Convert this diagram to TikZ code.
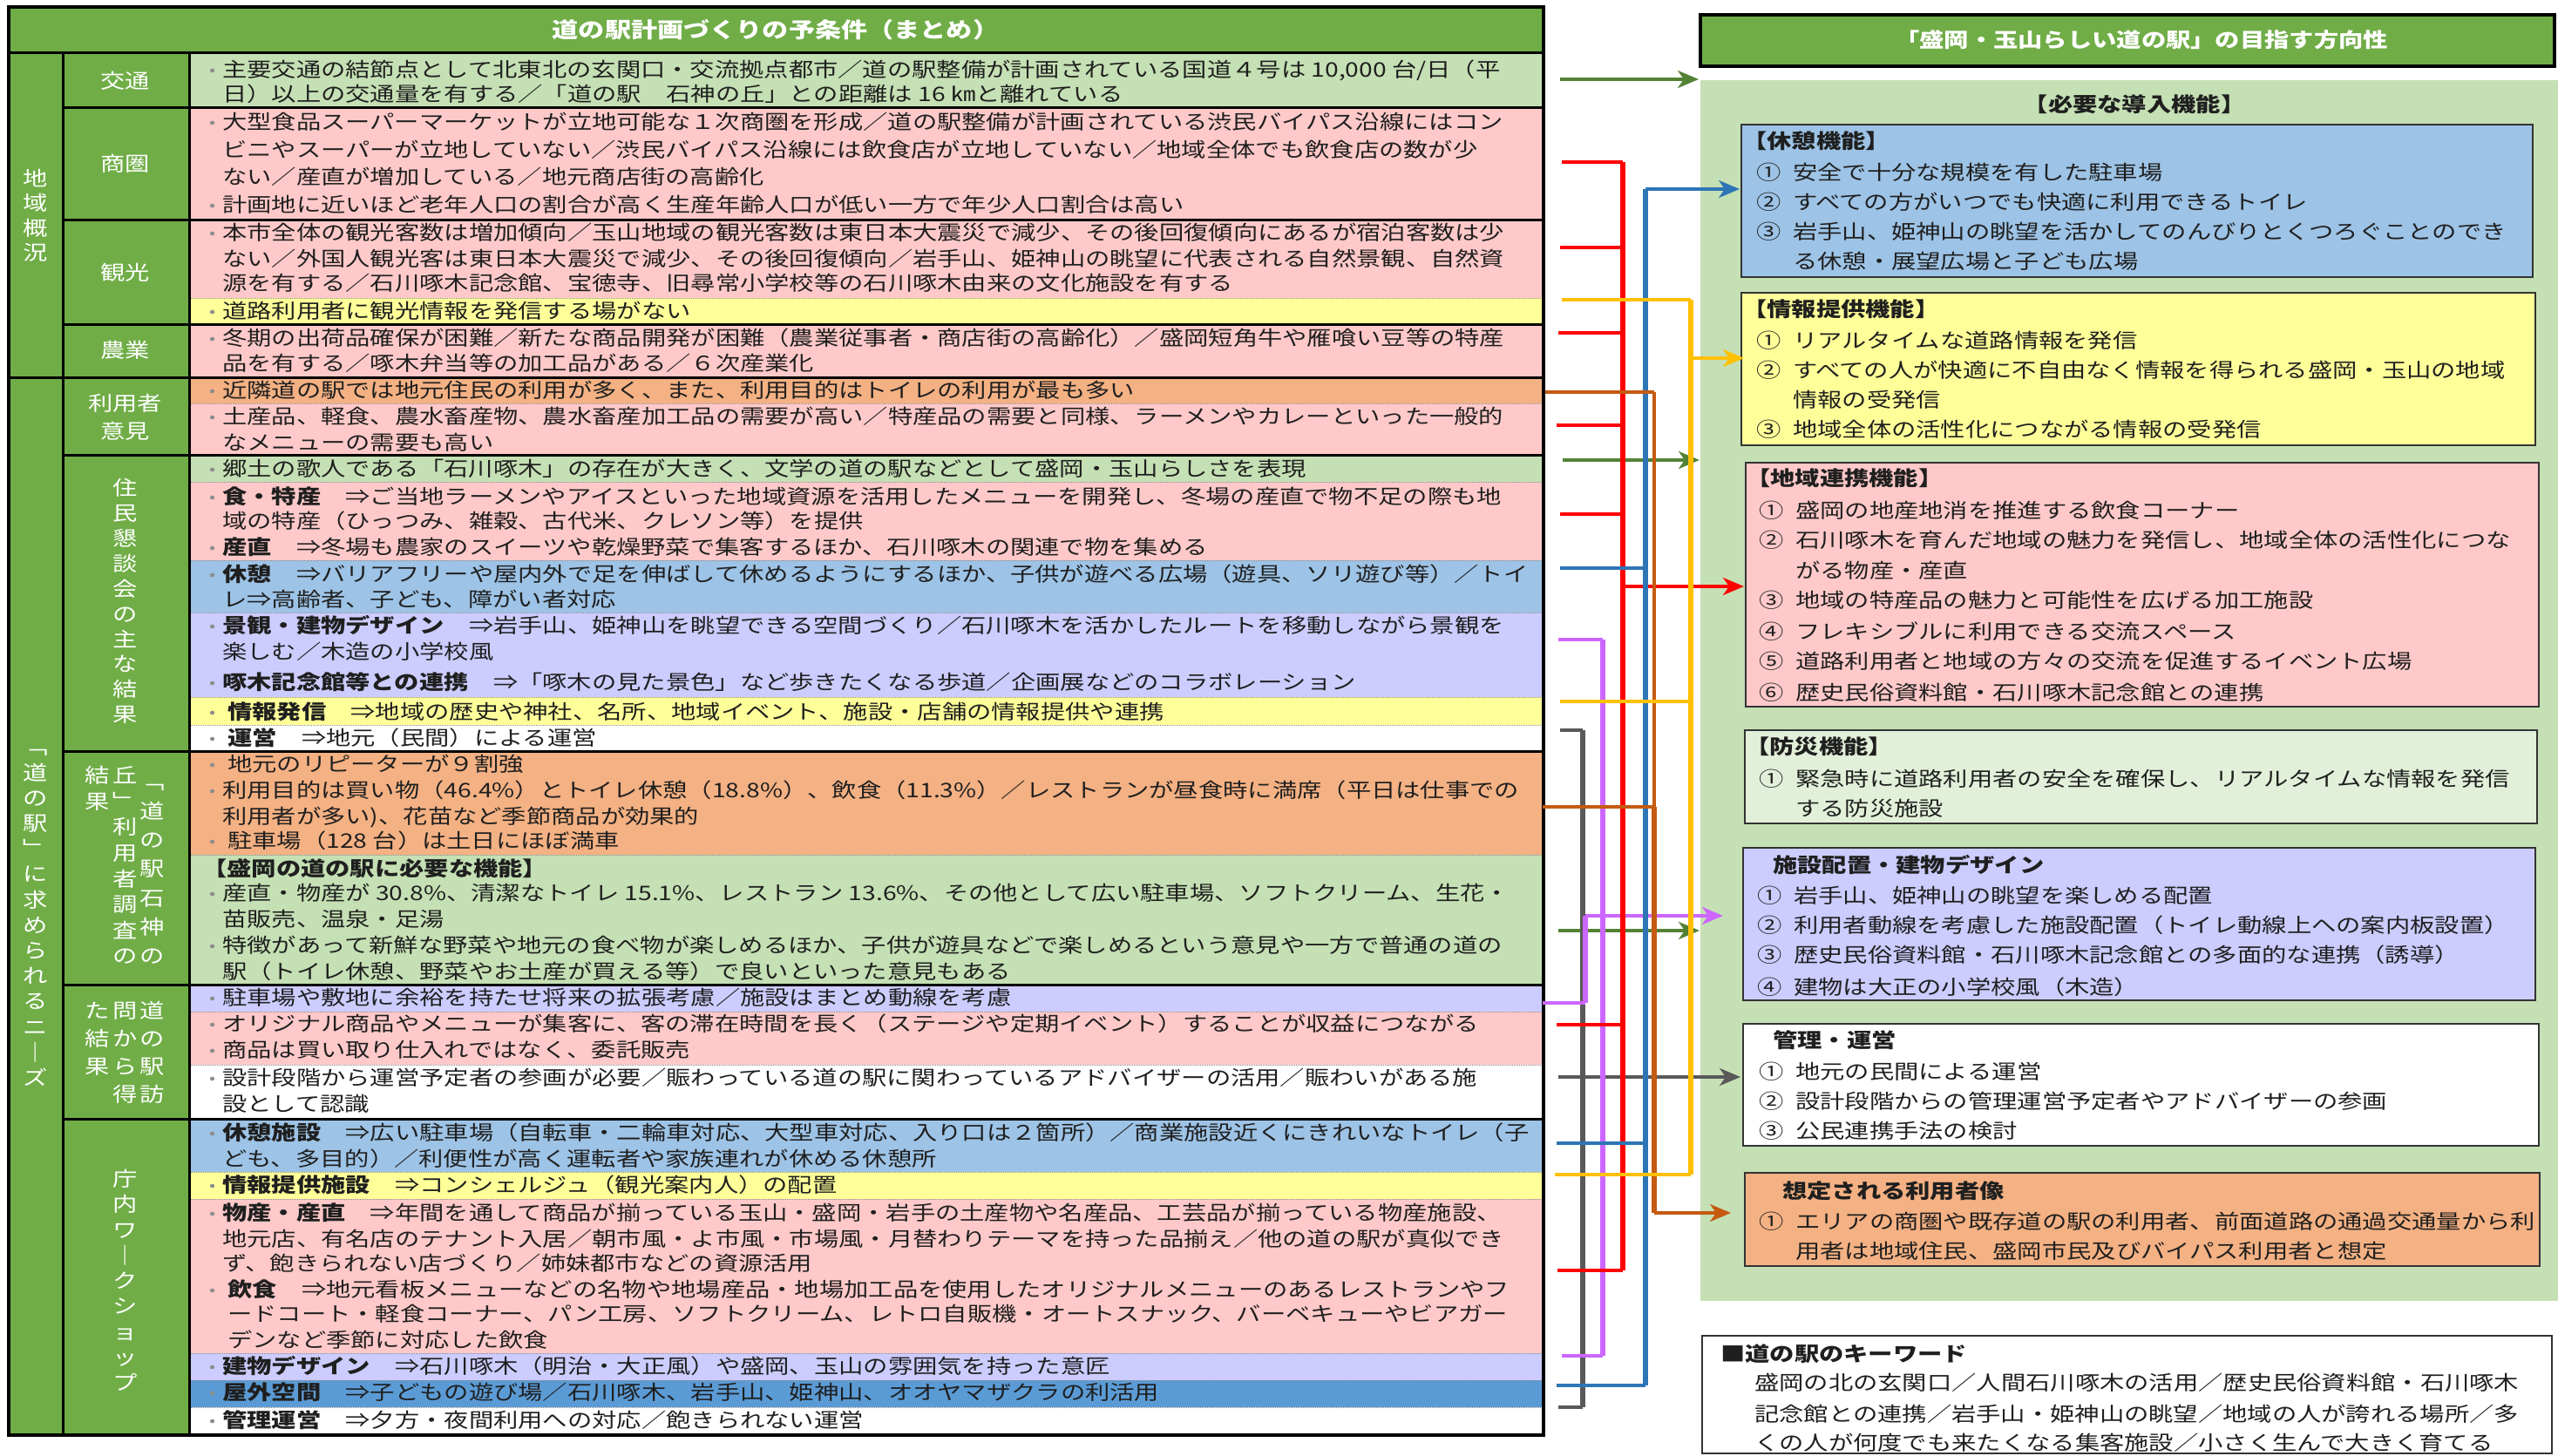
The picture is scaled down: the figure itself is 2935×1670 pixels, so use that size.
\documentclass[tikz,border=0pt]{standalone}
\usepackage{fontspec}
\setmainfont{Noto Sans CJK JP}[FakeStretch=1.23]
\usetikzlibrary{arrows.meta}
\definecolor{hdr}{HTML}{70AD47}
\definecolor{lgreen}{HTML}{C5E0B4}
\definecolor{pinkc}{HTML}{FFC9C9}
\definecolor{yel}{HTML}{FFFF99}
\definecolor{ora}{HTML}{F4B183}
\definecolor{lblue}{HTML}{9DC3E6}
\definecolor{lav}{HTML}{CCCCFF}
\definecolor{mblue}{HTML}{5B9BD5}
\definecolor{vlgreen}{HTML}{E2F0D9}
\definecolor{bulc}{HTML}{8C8C8C}
\definecolor{txtc}{HTML}{1F1F1F}
\definecolor{cgreen}{HTML}{548235}
\definecolor{cred}{HTML}{FF0000}
\definecolor{cblue}{HTML}{2E75B6}
\definecolor{cyel}{HTML}{FFC000}
\definecolor{cora}{HTML}{C55A11}
\definecolor{cpur}{HTML}{CC66FF}
\definecolor{cgray}{HTML}{595959}
\newcommand\tfnt{\fontsize{23}{29}\selectfont}
\newcommand\bul{\makebox[23pt][c]{\raisebox{2pt}{\textcolor{bulc}{\fontsize{17}{17}\selectfont •}}}}
\newcommand\indt{\hspace*{23pt}}
\newcommand\hsp{\hspace*{6pt}}
\newcommand\Bd[1]{{\bfseries #1}}
\newcommand\RI[1]{\makebox[42pt][l]{#1}}
\newcommand\RJ{\hspace*{42pt}}
\newcommand\vs{\rule[-2.8pt]{0pt}{23pt}}
\newcounter{ln}
\newcommand\TL[3][232]{\stepcounter{ln}\node[tl] (t\theln) at (#1,#2) {#3};}
\tikzset{
  tl/.style={anchor=west, inner sep=0pt, text height=20.2pt, text depth=2.8pt, font=\tfnt, text=txtc},
  vlab/.style={inner sep=0pt, align=center, text=white, font=\fontsize{23}{29}\selectfont},
  boxd/.style={line width=1.5pt, draw=black!80},
  dotl/.style={line width=1pt, densely dotted, draw=black!45},
  soll/.style={line width=3pt, draw=black},
  arr/.style={-{Stealth[length=24pt,width=20pt,inset=7pt]}},
  thn/.style={line width=3.5pt},
  thk/.style={line width=6pt}
}
\begin{document}
\begin{tikzpicture}[x=1pt,y=-1pt]
\useasboundingbox (0,0) rectangle (2935,1670);
\fill[white] (0,0) rectangle (2935,1670);
% ===== left table fills =====
\fill[hdr] (10,8) rectangle (1771,61);
\fill[hdr] (10,61) rectangle (217,1647);
\fill[lgreen] (217,61) rectangle (1771,123);
\fill[pinkc] (217,123) rectangle (1771,342);
\fill[yel] (217,342) rectangle (1771,372);
\fill[pinkc] (217,372) rectangle (1771,433);
\fill[ora] (217,433) rectangle (1771,463);
\fill[pinkc] (217,463) rectangle (1771,522);
\fill[lgreen] (217,522) rectangle (1771,553);
\fill[pinkc] (217,553) rectangle (1771,643);
\fill[lblue] (217,643) rectangle (1771,703);
\fill[lav] (217,703) rectangle (1771,800);
\fill[yel] (217,800) rectangle (1771,832);
\fill[white] (217,832) rectangle (1771,862);
\fill[ora] (217,862) rectangle (1771,981);
\fill[lgreen] (217,981) rectangle (1771,1130);
\fill[lav] (217,1130) rectangle (1771,1161);
\fill[pinkc] (217,1161) rectangle (1771,1222);
\fill[white] (217,1222) rectangle (1771,1284);
\fill[lblue] (217,1284) rectangle (1771,1345);
\fill[yel] (217,1345) rectangle (1771,1376);
\fill[pinkc] (217,1376) rectangle (1771,1553);
\fill[lav] (217,1553) rectangle (1771,1584);
\fill[mblue] (217,1584) rectangle (1771,1615);
\fill[white] (217,1615) rectangle (1771,1647);
% dotted separators
\foreach \yy in {342,463,553,643,703,800,832,981,1161,1222,1345,1376,1553,1584,1615}
  \draw[dotl] (217,\yy) -- (1771,\yy);
% solid lines
\foreach \yy in {123,252,372,522,862,1130,1284}
  \draw[soll] (72,\yy) -- (1771,\yy);
\draw[soll] (10,433) -- (1771,433);
\draw[soll] (10,61) -- (1771,61);
\draw[soll] (72,61) -- (72,1647);
\draw[soll] (217,61) -- (217,1647);
\draw[line width=4pt] (10,8) rectangle (1771,1647);
% title
\node[tl, anchor=center, text=white, font=\fontsize{24.5}{29}\selectfont] (ttl) at (890,35) {\Bd{道の駅計画づくりの予条件（まとめ）}};
% ===== category labels =====
\node[vlab, font=\fontsize{23}{28.5}\selectfont] (c1) at (41,247.5) {\vs 地\\域\\概\\況\vs};
\node[vlab, font=\fontsize{23}{29.2}\selectfont] (c2) at (41,1047) {\vs ﹁\\道\\の\\駅\\﹂\\に\\求\\め\\ら\\れ\\る\\ニ\\｜\\ズ\vs};
\node[vlab] (c3) at (143.5,93) {\vs 交通\vs};
\node[vlab] (c4) at (143.5,188) {\vs 商圏\vs};
\node[vlab] (c5) at (143.5,313) {\vs 観光\vs};
\node[vlab] (c6) at (143.5,402) {\vs 農業\vs};
\node[vlab, font=\fontsize{23}{32}\selectfont] (c7) at (143.5,479) {\vs 利用者\\意見\vs};
\node[vlab, font=\fontsize{23}{28.9}\selectfont] (c8) at (143.5,690) {\vs 住\\民\\懇\\談\\会\\の\\主\\な\\結\\果\vs};
\node[vlab, font=\fontsize{23}{33.3}\selectfont] (c9) at (175,997) {\vs ﹁\\道\\の\\駅\\石\\神\\の\vs};
\node[vlab, font=\fontsize{23}{29.6}\selectfont] (c10) at (143.5,993.5) {\vs 丘\\﹂\\利\\用\\者\\調\\査\\の\vs};
\node[vlab, font=\fontsize{23}{30}\selectfont] (c11) at (112,905) {\vs 結\\果\vs};
\node[vlab, font=\fontsize{23}{32}\selectfont] (c12) at (175,1208) {\vs 道\\の\\駅\\訪\vs};
\node[vlab, font=\fontsize{23}{32}\selectfont] (c13) at (143.5,1208) {\vs 問\\か\\ら\\得\vs};
\node[vlab, font=\fontsize{23}{32}\selectfont] (c14) at (112,1192) {\vs た\\結\\果\vs};
\node[vlab, font=\fontsize{23}{29.25}\selectfont] (c15) at (143.5,1470) {\vs 庁\\内\\ワ\\｜\\ク\\シ\\ョ\\ッ\\プ\vs};
% ===== table text =====
\TL{80}{\bul 主要交通の結節点として北東北の玄関口・交流拠点都市／道の駅整備が計画されている国道４号は 10,000 台/日（平}
\TL{108}{\indt 日）以上の交通量を有する／「道の駅　石神の丘」との距離は 16 ㎞と離れている}
\TL{140}{\bul 大型食品スーパーマーケットが立地可能な１次商圏を形成／道の駅整備が計画されている渋民バイパス沿線にはコン}
\TL{172}{\indt ビニやスーパーが立地していない／渋民バイパス沿線には飲食店が立地していない／地域全体でも飲食店の数が少}
\TL{203}{\indt ない／産直が増加している／地元商店街の高齢化}
\TL{235}{\bul 計画地に近いほど老年人口の割合が高く生産年齢人口が低い一方で年少人口割合は高い}
\TL{267}{\bul 本市全体の観光客数は増加傾向／玉山地域の観光客数は東日本大震災で減少、その後回復傾向にあるが宿泊客数は少}
\TL{297}{\indt ない／外国人観光客は東日本大震災で減少、その後回復傾向／岩手山、姫神山の眺望に代表される自然景観、自然資}
\TL{325}{\indt 源を有する／石川啄木記念館、宝徳寺、旧尋常小学校等の石川啄木由来の文化施設を有する}
\TL{357}{\bul 道路利用者に観光情報を発信する場がない}
\TL{388}{\bul 冬期の出荷品確保が困難／新たな商品開発が困難（農業従事者・商店街の高齢化）／盛岡短角牛や雁喰い豆等の特産}
\TL{417}{\indt 品を有する／啄木弁当等の加工品がある／６次産業化}
\TL{448}{\bul 近隣道の駅では地元住民の利用が多く、また、利用目的はトイレの利用が最も多い}
\TL{478}{\bul 土産品、軽食、農水畜産物、農水畜産加工品の需要が高い／特産品の需要と同様、ラーメンやカレーといった一般的}
\TL{508}{\indt なメニューの需要も高い}
\TL{538}{\bul 郷土の歌人である「石川啄木」の存在が大きく、文学の道の駅などとして盛岡・玉山らしさを表現}
\TL{570}{\bul \Bd{食・特産}　⇒ご当地ラーメンやアイスといった地域資源を活用したメニューを開発し、冬場の産直で物不足の際も地}
\TL{598}{\indt 域の特産（ひっつみ、雑穀、古代米、クレソン等）を提供}
\TL{628}{\bul \Bd{産直}　⇒冬場も農家のスイーツや乾燥野菜で集客するほか、石川啄木の関連で物を集める}
\TL{659}{\bul \Bd{休憩}　⇒バリアフリーや屋内外で足を伸ばして休めるようにするほか、子供が遊べる広場（遊具、ソリ遊び等）／トイ}
\TL{688}{\indt レ⇒高齢者、子ども、障がい者対応}
\TL{718}{\bul \Bd{景観・建物デザイン}　⇒岩手山、姫神山を眺望できる空間づくり／石川啄木を活かしたルートを移動しながら景観を}
\TL{748}{\indt 楽しむ／木造の小学校風}
\TL{783}{\bul \Bd{啄木記念館等との連携}　⇒「啄木の見た景色」など歩きたくなる歩道／企画展などのコラボレーション}
\TL{817}{\bul\hsp\Bd{情報発信}　⇒地域の歴史や神社、名所、地域イベント、施設・店舗の情報提供や連携}
\TL{847}{\bul\hsp\Bd{運営}　⇒地元（民間）による運営}
\TL{877}{\bul\hsp 地元のリピーターが９割強}
\TL{907}{\bul 利用目的は買い物（46.4\%）とトイレ休憩（18.8\%）、飲食（11.3\%）／レストランが昼食時に満席（平日は仕事での}
\TL{937}{\indt 利用者が多い)、花苗など季節商品が効果的}
\TL{965}{\bul\hsp 駐車場（128 台）は土日にほぼ満車}
\TL{997}{\Bd{【盛岡の道の駅に必要な機能】}}
\TL{1025}{\bul 産直・物産が 30.8\%、清潔なトイレ 15.1\%、レストラン 13.6\%、その他として広い駐車場、ソフトクリーム、生花・}
\TL{1055}{\indt 苗販売、温泉・足湯}
\TL{1085}{\bul 特徴があって新鮮な野菜や地元の食べ物が楽しめるほか、子供が遊具などで楽しめるという意見や一方で普通の道の}
\TL{1115}{\indt 駅（トイレ休憩、野菜やお土産が買える等）で良いといった意見もある}
\TL{1145}{\bul 駐車場や敷地に余裕を持たせ将来の拡張考慮／施設はまとめ動線を考慮}
\TL{1175}{\bul オリジナル商品やメニューが集客に、客の滞在時間を長く（ステージや定期イベント）することが収益につながる}
\TL{1205}{\bul 商品は買い取り仕入れではなく、委託販売}
\TL{1237}{\bul 設計段階から運営予定者の参画が必要／賑わっている道の駅に関わっているアドバイザーの活用／賑わいがある施}
\TL{1267}{\indt 設として認識}
\TL{1300}{\bul \Bd{休憩施設}　⇒広い駐車場（自転車・二輪車対応、大型車対応、入り口は２箇所）／商業施設近くにきれいなトイレ（子}
\TL{1330}{\indt ども、多目的）／利便性が高く運転者や家族連れが休める休憩所}
\TL{1360}{\bul \Bd{情報提供施設}　⇒コンシェルジュ（観光案内人）の配置}
\TL{1392}{\bul \Bd{物産・産直}　⇒年間を通して商品が揃っている玉山・盛岡・岩手の土産物や名産品、工芸品が揃っている物産施設、}
\TL{1422}{\indt 地元店、有名店のテナント入居／朝市風・よ市風・市場風・月替わりテーマを持った品揃え／他の道の駅が真似でき}
\TL{1450}{\indt ず、飽きられない店づくり／姉妹都市などの資源活用}
\TL{1480}{\bul\hsp\Bd{飲食}　⇒地元看板メニューなどの名物や地場産品・地場加工品を使用したオリジナルメニューのあるレストランやフ}
\TL{1508}{\indt\hsp ードコート・軽食コーナー、パン工房、ソフトクリーム、レトロ自販機・オートスナック、バーベキューやビアガー}
\TL{1538}{\indt\hsp デンなど季節に対応した飲食}
\TL{1568}{\bul \Bd{建物デザイン}　⇒石川啄木（明治・大正風）や盛岡、玉山の雰囲気を持った意匠}
\TL{1598}{\bul \Bd{屋外空間}　⇒子どもの遊び場／石川啄木、岩手山、姫神山、オオヤマザクラの利活用}
\TL{1630}{\bul \Bd{管理運営}　⇒夕方・夜間利用への対応／飽きられない運営}
% ===== right panel =====
\draw[line width=4pt, fill=hdr] (1951,17) rectangle (2931,76);
\node[tl, anchor=center, text=white] (rtitle) at (2457,46) {\Bd{「盛岡・玉山らしい道の駅」の目指す方向性}};
\fill[lgreen] (1951,92) rectangle (2935,1493);
\node[tl, anchor=center] (need) at (2449,120) {\Bd{【必要な導入機能】}};
\draw[boxd, fill=lblue] (1998,143) rectangle (2906,318);
\draw[boxd, fill=yel] (1998,336) rectangle (2909,511);
\draw[boxd, fill=pinkc] (2003,531) rectangle (2913,811);
\draw[boxd, fill=vlgreen] (2002,838) rectangle (2911,945);
\draw[boxd, fill=lav] (2000,973) rectangle (2909,1148);
\draw[boxd, fill=white] (2000,1175) rectangle (2913,1315);
\draw[boxd, fill=ora] (2002,1346) rectangle (2914,1453);
\draw[boxd, fill=white] (1953,1533) rectangle (2928,1668);
\TL[1999]{162}{\Bd{【休憩機能】}}
\TL[2015]{198}{\RI{①}安全で十分な規模を有した駐車場}
\TL[2015]{232}{\RI{②}すべての方がいつでも快適に利用できるトイレ}
\TL[2015]{266}{\RI{③}岩手山、姫神山の眺望を活かしてのんびりとくつろぐことのでき}
\TL[2015]{300}{\RJ る休憩・展望広場と子ども広場}
\TL[1999]{355}{\Bd{【情報提供機能】}}
\TL[2015]{391}{\RI{①}リアルタイムな道路情報を発信}
\TL[2015]{425}{\RI{②}すべての人が快適に不自由なく情報を得られる盛岡・玉山の地域}
\TL[2015]{459}{\RJ 情報の受発信}
\TL[2015]{493}{\RI{③}地域全体の活性化につながる情報の受発信}
\TL[2003]{549}{\Bd{【地域連携機能】}}
\TL[2018]{586}{\RI{①}盛岡の地産地消を推進する飲食コーナー}
\TL[2018]{620}{\RI{②}石川啄木を育んだ地域の魅力を発信し、地域全体の活性化につな}
\TL[2018]{655}{\RJ がる物産・産直}
\TL[2018]{689}{\RI{③}地域の特産品の魅力と可能性を広げる加工施設}
\TL[2018]{725}{\RI{④}フレキシブルに利用できる交流スペース}
\TL[2018]{759}{\RI{⑤}道路利用者と地域の方々の交流を促進するイベント広場}
\TL[2018]{795}{\RI{⑥}歴史民俗資料館・石川啄木記念館との連携}
\TL[2002]{857}{\Bd{【防災機能】}}
\TL[2018]{894}{\RI{①}緊急時に道路利用者の安全を確保し、リアルタイムな情報を発信}
\TL[2018]{928}{\RJ する防災施設}
\TL[2034]{993}{\Bd{施設配置・建物デザイン}}
\TL[2016]{1028}{\RI{①}岩手山、姫神山の眺望を楽しめる配置}
\TL[2016]{1062}{\RI{②}利用者動線を考慮した施設配置（トイレ動線上への案内板設置）}
\TL[2016]{1096}{\RI{③}歴史民俗資料館・石川啄木記念館との多面的な連携（誘導）}
\TL[2016]{1133}{\RI{④}建物は大正の小学校風（木造）}
\TL[2034]{1194}{\Bd{管理・運営}}
\TL[2018]{1230}{\RI{①}地元の民間による運営}
\TL[2018]{1264}{\RI{②}設計段階からの管理運営予定者やアドバイザーの参画}
\TL[2018]{1298}{\RI{③}公民連携手法の検討}
\TL[2045]{1367}{\Bd{想定される利用者像}}
\TL[2018]{1402}{\RI{①}エリアの商圏や既存道の駅の利用者、前面道路の通過交通量から利}
\TL[2018]{1436}{\RJ 用者は地域住民、盛岡市民及びバイパス利用者と想定}
\TL[1974]{1554}{\Bd{■道の駅のキーワード}}
\TL[2013]{1587}{盛岡の北の玄関口／人間石川啄木の活用／歴史民俗資料館・石川啄木}
\TL[2013]{1623}{記念館との連携／岩手山・姫神山の眺望／地域の人が誇れる場所／多}
\TL[2013]{1656}{くの人が何度でも来たくなる集客施設／小さく生んで大きく育てる}
% ===== connectors =====
% green
\coordinate (g1a) at (1790,91);  \coordinate (g1b) at (1949,91);
\coordinate (g2a) at (1793,528); \coordinate (g2b) at (1950,528);
\coordinate (g3a) at (1788,1068);\coordinate (g3b) at (1950,1068);
\draw[cgreen, thn, arr] (g1a) -- (g1b);
\draw[cgreen, thn, arr] (g2a) -- (g2b);
\draw[cgreen, thn, arr] (g3a) -- (g3b);
% gray
\coordinate (kv1) at (1816,838); \coordinate (kv2) at (1816,1615);
\coordinate (k1) at (1790,838); \coordinate (k2) at (1788,1615);
\coordinate (k3) at (1788,1236); \coordinate (k3b) at (1997,1236);
\draw[cgray, thk] (kv1) -- (kv2);
\draw[cgray, thn] (k1) -- (kv1);
\draw[cgray, thn] (k2) -- (kv2);
\draw[cgray, thn, arr] (k3) -- (k3b);
% purple
\coordinate (pv1) at (1839,734); \coordinate (pv2) at (1839,1556);
\coordinate (p1) at (1788,734); \coordinate (p2) at (1792,1556);
\coordinate (p3) at (1770,1151); \coordinate (p3j) at (1819,1151);
\coordinate (p3k) at (1819,1051); \coordinate (p3b) at (1977,1051);
\draw[cpur, thk] (pv1) -- (pv2);
\draw[cpur, thn] (p1) -- (pv1);
\draw[cpur, thn] (p2) -- (pv2);
\draw[cpur, thn] (p3) -- (p3j);
\draw[cpur, thk] (p3j) -- (p3k);
\draw[cpur, thn, arr] (p3k) -- (p3b);
% red
\coordinate (rv1) at (1862,186); \coordinate (rv2) at (1862,1458);
\coordinate (r1) at (1792,186); \coordinate (r2) at (1790,284);
\coordinate (r3) at (1788,382); \coordinate (r4) at (1786,488);
\coordinate (r5) at (1790,590); \coordinate (r6) at (1786,1176);
\coordinate (r7) at (1787,1458);
\coordinate (ra) at (1862,673); \coordinate (rb) at (2001,673);
\foreach \c in {r1,r2,r3,r4,r5,r6,r7} \draw[cred, thn] (\c) -- (\c -| rv1);
\draw[cred, thk] (rv1) -- (rv2);
\draw[cred, thn, arr] (ra) -- (rb);
% blue
\coordinate (bv1) at (1888,217); \coordinate (bv2) at (1888,1590);
\coordinate (bb) at (1996,217);
\coordinate (b1) at (1790,652); \coordinate (b2) at (1786,1312); \coordinate (b3) at (1786,1590);
\foreach \c in {b1,b2,b3} \draw[cblue, thn] (\c) -- (\c -| bv1);
\draw[cblue, thk] (bv1) -- (bv2);
\draw[cblue, thn, arr] (bv1) -- (bb);
% orange
\coordinate (ov1) at (1898,450); \coordinate (ov2) at (1898,1392);
\coordinate (ovm) at (1898,926);
\coordinate (o1) at (1773,450); \coordinate (o2) at (1770,926);
\coordinate (ob) at (1986,1392);
\draw[cora, thn] (o1) -- (ov1);
\draw[cora, thn] (o2) -- (ovm);
\draw[cora, line width=4.5pt] (ov1) -- (ovm);
\draw[cora, thk] (ovm) -- (ov2);
\draw[cora, thn, arr] (ov2) -- (ob);
% yellow
\coordinate (yv1) at (1940,344); \coordinate (yv2) at (1940,1348);
\coordinate (y1) at (1792,344); \coordinate (y2) at (1790,805); \coordinate (y3) at (1784,1348);
\coordinate (ya) at (1940,411); \coordinate (yb) at (2001,411);
\foreach \c in {y1,y2,y3} \draw[cyel, thn] (\c) -- (\c -| yv1);
\draw[cyel, thk] (yv1) -- (yv2);
\draw[cyel, thn, arr] (ya) -- (yb);
\end{tikzpicture}
\end{document}
